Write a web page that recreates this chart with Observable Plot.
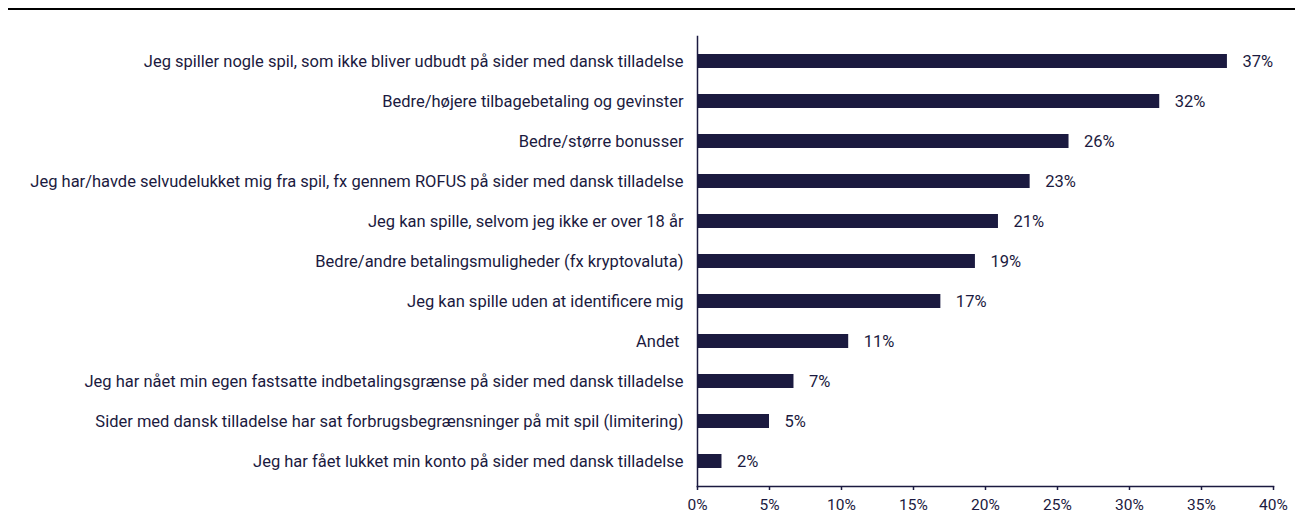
<!DOCTYPE html>
<html>
<head>
<meta charset="utf-8">
<script src="https://cdn.jsdelivr.net/npm/d3@7"></script>
<script src="https://cdn.jsdelivr.net/npm/@observablehq/plot@0.6"></script>
<style>
  html, body { margin: 0; padding: 0; background: #fff; }
  #wrap { position: relative; width: 1295px; height: 514px; overflow: hidden; }
  #topline { position: absolute; left: 8px; right: 0; top: 8px; height: 2px; background: #000; }
  #chart { position: absolute; left: 0; top: 0; }
</style>
</head>
<body>
<div id="wrap">
  <div id="topline"></div>
  <div id="chart"></div>
</div>
<script>
const categories = [
  "Jeg spiller nogle spil, som ikke bliver udbudt på sider med dansk tilladelse",
  "Bedre/højere tilbagebetaling og gevinster",
  "Bedre/større bonusser",
  "Jeg har/havde selvudelukket mig fra spil, fx gennem ROFUS på sider med dansk tilladelse",
  "Jeg kan spille, selvom jeg ikke er over 18 år",
  "Bedre/andre betalingsmuligheder (fx kryptovaluta)",
  "Jeg kan spille uden at identificere mig",
  "Andet\u00a0",
  "Jeg har nået min egen fastsatte indbetalingsgrænse på sider med dansk tilladelse",
  "Sider med dansk tilladelse har sat forbrugsbegrænsninger på mit spil (limitering)",
  "Jeg har fået lukket min konto på sider med dansk tilladelse"
];
const values = [36.8, 32.1, 25.8, 23.1, 20.9, 19.3, 16.9, 10.5, 6.7, 5.0, 1.7];
const xTicks = [0, 5, 10, 15, 20, 25, 30, 35, 40];

const navy = "#1b1a40";
const data = categories.map((c, i) => ({label: c, value: values[i]}));

const chart = Plot.plot({
  width: 1295,
  height: 514,
  marginLeft: 697,
  marginRight: 22,
  marginTop: 36,
  marginBottom: 28,
  style: {fontFamily: "Roboto, sans-serif", fontSize: "16px", color: navy, background: "transparent"},
  x: {domain: [0, 40], ticks: xTicks, tickFormat: d => d + "%", label: null},
  y: {domain: categories, paddingInner: 0.66, paddingOuter: 0.318, label: null},
  marks: [
    Plot.barX(data, {x: "value", y: "label", fill: navy}),
    Plot.text(data, {x: "value", y: "label", text: d => Math.round(d.value) + "%", textAnchor: "start", dx: 15, fill: navy, fontSize: 16.5}),
    Plot.frame({anchor: "left", stroke: navy, strokeWidth: 1.5}),
    Plot.frame({anchor: "bottom", stroke: navy, strokeWidth: 1.5}),
    Plot.axisX({ticks: xTicks, tickFormat: d => d + "%", tickSize: 4, tickPadding: 8, stroke: navy, strokeWidth: 1.5, fill: navy, fontSize: 15.5, label: null}),
    Plot.axisY({tickSize: 0, tickPadding: 14, fill: navy, fontSize: 16.5, label: null})
  ]
});
document.getElementById("chart").appendChild(chart);
</script>
</body>
</html>
